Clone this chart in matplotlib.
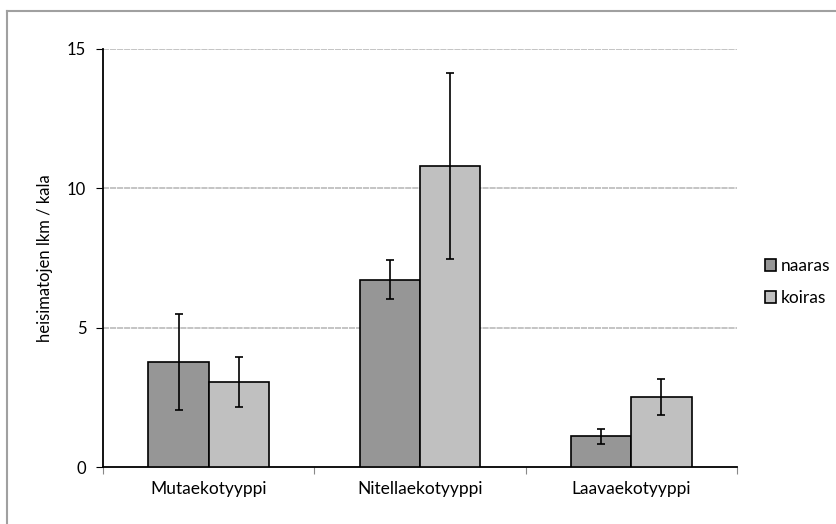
import numpy as np
import matplotlib.pyplot as plt
from matplotlib.lines import Line2D

categories = ["Mutaekotyyppi", "Nitellaekotyyppi", "Laavaekotyyppi"]
naaras = [3.78, 6.72, 1.10]
naaras_err = [1.72, 0.70, 0.27]
koiras = [3.06, 10.80, 2.52]
koiras_err = [0.89, 3.35, 0.65]
yticks = [0, 5, 10, 15]

fig = plt.figure(figsize=(8.36, 5.24), dpi=100)
ax = fig.add_axes([103 / 836, 1 - 467 / 524, 634 / 836, 418 / 524])

# chart frame: only the top and left edges are visible in the crop
bx, by = 6.5 / 836, 1 - 10.5 / 524
fig.lines.append(Line2D([bx, 1], [by, by], transform=fig.transFigure,
                        color="#a0a0a0", linewidth=1.5))
fig.lines.append(Line2D([bx, bx], [0, by], transform=fig.transFigure,
                        color="#a0a0a0", linewidth=1.5))

x = np.arange(len(categories))
w = 0.285
ekw = dict(elinewidth=1.2, capsize=3, capthick=1.2, ecolor="black")
ax.bar(x - w / 2, naaras, w, color="#969696", edgecolor="black", linewidth=1.2,
       label="naaras", zorder=3)
ax.bar(x + w / 2, koiras, w, color="#c0c0c0", edgecolor="black", linewidth=1.2,
       label="koiras", zorder=3)
ax.errorbar(x - w / 2, naaras, yerr=naaras_err, fmt="none", zorder=4, **ekw)
ax.errorbar(x + w / 2, koiras, yerr=koiras_err, fmt="none", zorder=4, **ekw)

ax.set_xlim(-0.5, 2.5)
ax.set_ylim(0, 15)
ax.set_yticks(yticks)
ax.set_yticklabels([str(t) for t in yticks], fontfamily="Lato", fontsize=12)
ax.set_xticks([-0.5, 0.5, 1.5, 2.5])
ax.set_xticklabels([])
ax.set_xticks(x, minor=True)
ax.set_xticklabels(categories, minor=True, fontfamily="Lato", fontsize=12.5)
ax.tick_params(axis="x", which="minor", length=0, pad=10)
ax.tick_params(axis="x", which="major", length=5, width=0.8, color="#888888")
ax.tick_params(axis="y", length=5, width=0.8, pad=7)

for t in yticks[1:]:
    ax.axhline(t, color="#b4b4b4", linewidth=1.1, linestyle=(0, (4, 0.6)), zorder=1)

ax.spines["top"].set_visible(False)
ax.spines["right"].set_visible(False)
ax.spines["left"].set_linewidth(1.3)
ax.spines["bottom"].set_linewidth(1.3)

ax.set_ylabel("heisimatojen lkm / kala", fontsize=12, fontfamily="Lato",
              labelpad=10)

fig.legend(loc="center left", bbox_to_anchor=(758 / 836, 1 - 282 / 524),
           frameon=False, prop={"family": "Lato", "size": 12.5},
           handlelength=0.65, handleheight=0.65, handletextpad=0.25,
           labelspacing=0.9, borderaxespad=0)

fig.savefig("out.png", dpi=100)
